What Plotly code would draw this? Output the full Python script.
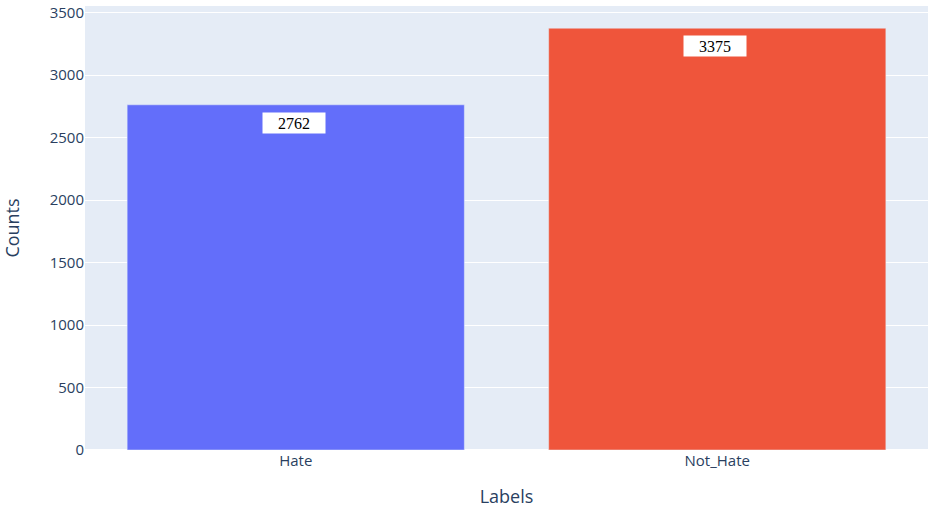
import plotly.graph_objects as go

labels = ["Hate", "Not_Hate"]
counts = [2762, 3375]
colors = ["#636efa", "#EF553B"]

fig = go.Figure()
fig.add_trace(go.Bar(x=labels, y=counts, marker_color=colors, showlegend=False))

for lab, c in zip(labels, counts):
    fig.add_annotation(
        x=lab, y=c, text=str(c), showarrow=False,
        yanchor="top", yshift=-7, xshift=-2,
        bgcolor="white", width=60, height=18,
        font=dict(family="Liberation Serif", size=16, color="black"),
    )

fig.update_layout(
    template="plotly",
    width=928, height=508,
    margin=dict(l=85, r=0, t=6, b=58),
    font=dict(family="Open Sans", size=15, color="#2a3f5f"),
    xaxis=dict(title=dict(text="Labels", font=dict(size=18), standoff=24), tickfont=dict(size=15)),
    yaxis=dict(title=dict(text="Counts", font=dict(size=18), standoff=28), tickfont=dict(size=15)),
    bargap=0.2,
)

fig.write_html("out.html", config={"displayModeBar": False},
               post_script="document.body.style.margin='0';")
